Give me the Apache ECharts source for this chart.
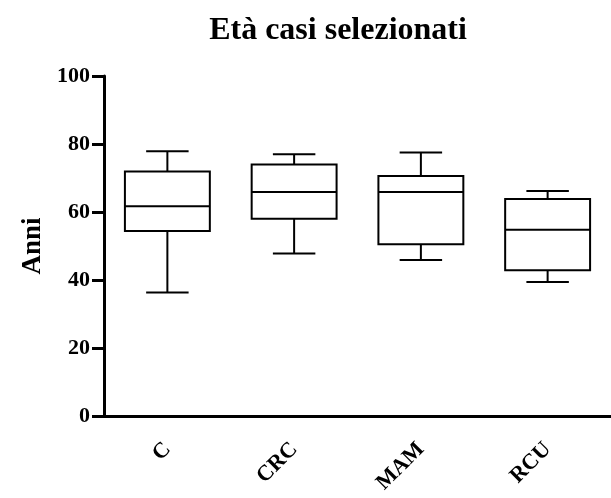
<!DOCTYPE html>
<html><head><meta charset="utf-8">
<script src="https://cdn.jsdelivr.net/npm/echarts@6/dist/echarts.min.js"></script>
<style>html,body{margin:0;padding:0;background:#fff}#c{width:611px;height:498px}</style>
</head><body><div id="c"></div>
<script>
const categories = ['C', 'CRC', 'MAM', 'RCU'];
const minVals = [36.3, 47.8, 45.9, 39.4];
const q1Vals = [54.4, 58.0, 50.5, 42.9];
const medianVals = [61.7, 65.9, 65.9, 54.8];
const q3Vals = [71.9, 74.0, 70.6, 63.8];
const maxVals = [77.9, 77.0, 77.5, 66.2];
const yTicks = [0, 20, 40, 60, 80, 100];

const data = categories.map((c, i) => [i, minVals[i], q1Vals[i], medianVals[i], q3Vals[i], maxVals[i]]);
const FONT = '"Liberation Serif", "Times New Roman", serif';

const chart = echarts.init(document.getElementById('c'));
chart.setOption({
  backgroundColor: '#fff',
  animation: false,
  title: {
    text: 'Età casi selezionati', left: 333, top: 10, textAlign: 'center',
    textStyle: { fontFamily: FONT, fontWeight: 'bold', fontSize: 32, color: '#000' }
  },
  grid: { left: 104, top: 76, bottom: 82, right: -9, containLabel: false },
  xAxis: {
    type: 'category', data: categories, boundaryGap: true,
    axisLine: { lineStyle: { color: '#000', width: 3 } },
    axisTick: { alignWithLabel: true, length: 9, lineStyle: { color: '#000', width: 3 } },
    axisLabel: { rotate: 45, margin: 30, color: '#000', fontFamily: FONT, fontWeight: 'bold', fontSize: 22 },
    splitLine: { show: false }
  },
  yAxis: {
    type: 'value', min: yTicks[0], max: yTicks[yTicks.length - 1], interval: 20,
    name: 'Anni', nameLocation: 'middle', nameGap: 51, nameRotate: 90,
    nameTextStyle: { fontFamily: FONT, fontWeight: 'bold', fontSize: 27, color: '#000' },
    axisLine: { show: true, lineStyle: { color: '#000', width: 3 } },
    axisTick: { show: true, length: 12, lineStyle: { color: '#000', width: 3 } },
    axisLabel: { margin: 14, color: '#000', fontFamily: FONT, fontWeight: 'bold', fontSize: 22 },
    splitLine: { show: false }
  },
  series: [{
    type: 'custom',
    data: data,
    encode: { x: 0, y: [1, 2, 3, 4, 5] },
    renderItem: function (params, api) {
      const i = api.value(0);
      const w = api.size([1, 0])[0] * 0.67;
      const hw = w / 2, cw = w / 4;
      const pMin = api.coord([i, api.value(1)]);
      const pQ1 = api.coord([i, api.value(2)]);
      const pMed = api.coord([i, api.value(3)]);
      const pQ3 = api.coord([i, api.value(4)]);
      const pMax = api.coord([i, api.value(5)]);
      const x = pMed[0];
      const st = { stroke: '#000', lineWidth: 2, fill: null };
      return {
        type: 'group',
        children: [
          { type: 'rect', shape: { x: x - hw, y: pQ3[1], width: w, height: pQ1[1] - pQ3[1] }, style: { stroke: '#000', lineWidth: 2, fill: '#fff' } },
          { type: 'line', shape: { x1: x - hw, y1: pMed[1], x2: x + hw, y2: pMed[1] }, style: st },
          { type: 'line', shape: { x1: x, y1: pQ3[1], x2: x, y2: pMax[1] }, style: st },
          { type: 'line', shape: { x1: x, y1: pQ1[1], x2: x, y2: pMin[1] }, style: st },
          { type: 'line', shape: { x1: x - cw, y1: pMax[1], x2: x + cw, y2: pMax[1] }, style: st },
          { type: 'line', shape: { x1: x - cw, y1: pMin[1], x2: x + cw, y2: pMin[1] }, style: st }
        ]
      };
    }
  }]
});
</script></body></html>
